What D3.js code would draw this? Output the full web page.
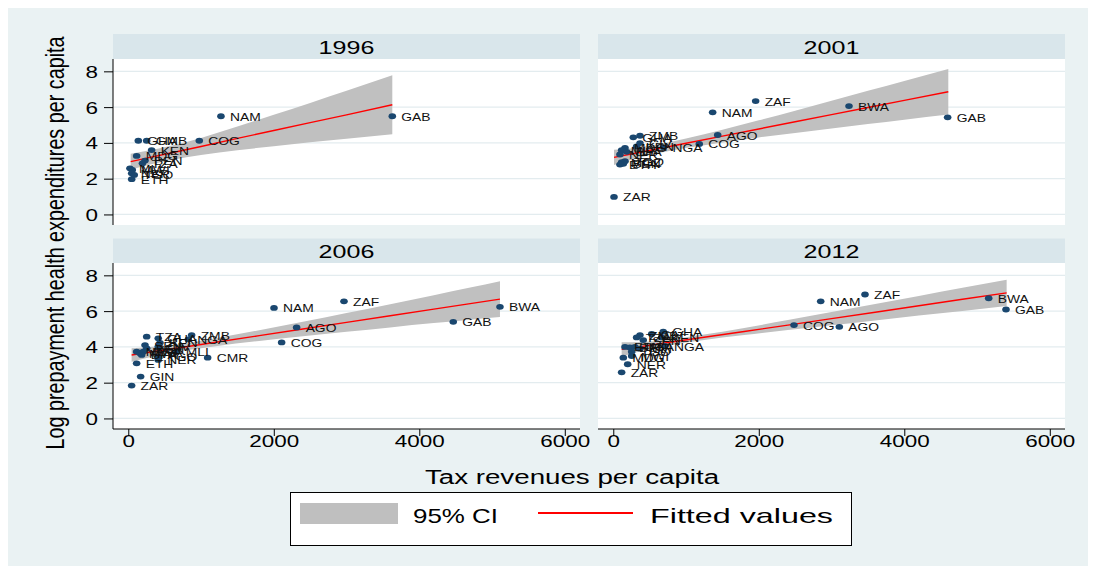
<!DOCTYPE html>
<html><head><meta charset="utf-8">
<script src="https://cdn.jsdelivr.net/npm/d3@7"></script>
<style>html,body{margin:0;padding:0;background:#fff}svg{display:block;font-family:"Liberation Sans",Arial,sans-serif}</style>
</head><body><svg id="c" width="1095" height="570"></svg>
<script>
const years = ["1996","2001","2006","2012"];
const xTicks = [0,2000,4000,6000];
const yTicks = [0,2,4,6,8];
const xTitle = "Tax revenues per capita";
const yTitle = "Log prepayment health expenditures per capita";
const legendLabels = ["95% CI","Fitted values"];

// [country, tax revenues per capita, log prepayment health exp.]
const pts1996 = [["NAM",1274,5.49],["GAB",3629,5.49],["COG",976,4.12],["GHA",138,4.12],["GMB",253,4.12],
 ["KEN",321,3.60],["MDG",115,3.27],["BEN",230,3.01],["TZA",195,2.86],["MLI",23,2.58],["MWI",55,2.49],
 ["NER",47,2.30],["TGO",82,2.21],["ETH",47,1.97]];
const pts2001 = [["ZAF",1957,6.34],["NAM",1366,5.71],["BWA",3240,6.06],["GAB",4596,5.43],["AGO",1435,4.44],
 ["COG",1182,3.94],["ZAR",10,0.98],["GHA",275,4.31],["ZMB",367,4.40],["CIV",367,3.99],["KEN",321,3.81],
 ["NGA",690,3.75],["MDG",161,3.72],["MLI",115,3.59],["BFA",184,3.50],["NER",92,3.35],["TGO",161,2.98],
 ["MOZ",115,2.92],["BEN",138,2.83],["ETH",92,2.79]];
const pts2006 = [["NAM",2003,6.18],["ZAF",2965,6.55],["BWA",5109,6.24],["GAB",4467,5.40],["AGO",2314,5.09],
 ["COG",2108,4.25],["CMR",1091,3.40],["TZA",253,4.57],["GHA",412,4.48],["ZMB",871,4.66],["NGA",825,4.42],
 ["KEN",436,4.23],["SEN",230,4.10],["BEN",253,3.92],["CIV",412,4.01],["MDG",115,3.73],["MWI",161,3.64],
 ["UGA",206,3.73],["BFA",184,3.55],["MLI",665,3.73],["TGO",412,3.45],["NER",412,3.27],["ETH",115,3.08],
 ["GIN",170,2.34],["ZAR",46,1.84]];
const pts2012 = [["ZAF",3460,6.93],["NAM",2851,6.55],["BWA",5160,6.72],["GAB",5398,6.09],["COG",2484,5.22],
 ["AGO",3107,5.12],["GHA",687,4.85],["CIV",528,4.72],["ZMB",367,4.66],["TZA",321,4.53],["SEN",412,4.38],
 ["KEN",665,4.53],["NGA",711,4.05],["ETH",161,4.00],["BEN",229,3.97],["UGA",298,4.00],["MLI",367,3.90],
 ["TGO",253,3.73],["MDG",138,3.40],["MWI",253,3.49],["NER",198,3.03],["ZAR",115,2.58]];

// [x, lower 95% CI, fitted value, upper 95% CI]
const ci1996 = [[33,2.50,2.95,3.40],[300,2.79,3.19,3.59],[600,3.05,3.45,3.85],[1000,3.32,3.80,4.28],
 [1500,3.59,4.25,4.91],[2000,3.81,4.69,5.57],[2500,4.03,5.13,6.23],[3000,4.23,5.57,6.91],[3629,4.48,6.13,7.78]];
const ci2001 = [[10,2.77,3.19,3.61],[300,3.12,3.42,3.72],[600,3.41,3.66,3.91],[1000,3.71,3.98,4.25],
 [1500,4.02,4.38,4.74],[2000,4.30,4.78,5.26],[2500,4.56,5.18,5.80],[3000,4.81,5.58,6.35],[3500,5.05,5.98,6.91],
 [4000,5.30,6.38,7.46],[4605,5.59,6.86,8.13]];
const ci2006 = [[46,3.17,3.55,3.93],[400,3.52,3.77,4.02],[800,3.81,4.01,4.21],[1200,4.04,4.26,4.48],
 [1800,4.33,4.63,4.93],[2400,4.59,5.00,5.41],[3000,4.84,5.37,5.90],[3600,5.09,5.74,6.39],[4200,5.33,6.11,6.89],
 [4700,5.52,6.42,7.32],[5109,5.67,6.67,7.67]];
const ci2012 = [[115,3.46,3.86,4.26],[400,3.78,4.03,4.28],[800,4.11,4.27,4.43],[1200,4.36,4.51,4.66],
 [1800,4.66,4.86,5.06],[2400,4.94,5.22,5.50],[3000,5.21,5.58,5.95],[3600,5.48,5.94,6.40],[4200,5.75,6.30,6.85],
 [4800,6.01,6.66,7.31],[5407,6.28,7.02,7.76]];

const SX = 1.32;               // horizontal stretch of the original rendering
const svg = d3.select("#c");
const FONT = '"Liberation Sans",Arial,sans-serif';

function stext(g, x, y, txt, size, anchor){
  return g.append("text").attr("transform",`translate(${x},${y}) scale(${SX},1)`)
    .attr("font-size",size).attr("text-anchor",anchor||"start").attr("fill","#000").text(txt);
}

svg.append("rect").attr("x",0).attr("y",0).attr("width",1095).attr("height",570).attr("fill","#fff");
svg.append("rect").attr("x",8).attr("y",8).attr("width",1080).attr("height",558).attr("fill","#eaf2f3");

const PW = 467, PH = 166;
const xDomain = [-210, 6209], yDomain = [-0.59, 8.69];
const panels = [
  {year:years[0], x0:113, top:59,  strip:34,  pts:pts1996, ci:ci1996, yax:true,  xax:false},
  {year:years[1], x0:598, top:59,  strip:34,  pts:pts2001, ci:ci2001, yax:false, xax:false},
  {year:years[2], x0:113, top:263, strip:238.5, pts:pts2006, ci:ci2006, yax:true,  xax:true},
  {year:years[3], x0:598, top:263, strip:238.5, pts:pts2012, ci:ci2012, yax:false, xax:true}
];

panels.forEach(p=>{
  const x = d3.scaleLinear().domain(xDomain).range([p.x0, p.x0+PW]);
  const y = d3.scaleLinear().domain(yDomain).range([p.top+PH, p.top]);
  const g = svg.append("g");
  g.append("rect").attr("x",p.x0).attr("y",p.strip).attr("width",PW).attr("height",p.top-p.strip).attr("fill","#d9e6eb");
  stext(g, p.x0+PW/2, p.strip+19.5, p.year, 19, "middle");
  g.append("rect").attr("x",p.x0).attr("y",p.top).attr("width",PW).attr("height",PH).attr("fill","#fff");
  g.selectAll("line.grid").data(yTicks).join("line").attr("class","grid")
    .attr("x1",p.x0).attr("x2",p.x0+PW).attr("y1",d=>y(d)).attr("y2",d=>y(d))
    .attr("stroke","#e3ecef").attr("stroke-width",1.2);
  const area = d3.area().x(d=>x(d[0])).y0(d=>y(d[1])).y1(d=>y(d[3])).curve(d3.curveMonotoneX);
  g.append("path").datum(p.ci).attr("d",area).attr("fill","#c0c0c0");
  const line = d3.line().x(d=>x(d[0])).y(d=>y(d[2]));
  g.append("path").datum(p.ci).attr("d",line).attr("fill","none").attr("stroke","#ff0000").attr("stroke-width",1.4);
  g.selectAll("ellipse").data(p.pts).join("ellipse")
    .attr("cx",d=>x(d[1])).attr("cy",d=>y(d[2])).attr("rx",3.8).attr("ry",2.9).attr("fill","#1a476f");
  p.pts.forEach(d=>{ stext(g, x(d[1])+9, y(d[2])+4.5, d[0], 10.5, "start").attr("fill","#111"); });

  if(p.yax){
    const ax = g.append("g").attr("transform",`translate(${p.x0},0)`)
      .call(d3.axisLeft(y).tickValues(yTicks).tickSize(9).tickFormat(d3.format("d")));
    ax.select(".domain").attr("d",`M0,${p.top}V${p.top+PH}`).attr("stroke","#000");
    ax.selectAll(".tick line").attr("stroke","#000");
    ax.selectAll(".tick text").attr("x",null).attr("dy",null)
      .attr("transform",`translate(-15,6) scale(${SX},1)`)
      .attr("font-size",17).attr("font-family",FONT).attr("fill","#000").attr("text-anchor","end");
  }
  if(p.xax){
    const ax = g.append("g").attr("transform",`translate(0,${p.top+PH})`)
      .call(d3.axisBottom(x).tickValues(xTicks).tickSize(7).tickFormat(d3.format("d")));
    ax.select(".domain").attr("d",`M${p.x0},0H${p.x0+PW}`).attr("stroke","#000");
    ax.selectAll(".tick line").attr("stroke","#000");
    ax.selectAll(".tick text").attr("y",null).attr("dy",null)
      .attr("transform",`translate(0,18) scale(${SX},1)`)
      .attr("font-size",17).attr("font-family",FONT).attr("fill","#000").attr("text-anchor","middle");
  }
});

// axis titles
stext(svg, 572, 484, xTitle, 21, "middle");
svg.append("text").attr("transform",`translate(64,243) scale(${SX},1) rotate(-90)`)
  .attr("font-size",20).attr("text-anchor","middle").attr("textLength",413).attr("lengthAdjust","spacingAndGlyphs")
  .attr("fill","#000").text(yTitle);

// legend
const lg = svg.append("g");
lg.append("rect").attr("x",290.5).attr("y",492.5).attr("width",561).attr("height",53)
  .attr("fill","#fff").attr("stroke","#000").attr("stroke-width",1);
lg.append("rect").attr("x",300).attr("y",503).attr("width",98).attr("height",21).attr("fill","#bfbfbf");
lg.append("text").attr("x",413).attr("y",523).attr("font-size",21).attr("fill","#000")
  .attr("textLength",85).attr("lengthAdjust","spacingAndGlyphs").text(legendLabels[0]);
lg.append("line").attr("x1",538).attr("x2",633).attr("y1",513).attr("y2",513).attr("stroke","#ff0000").attr("stroke-width",2);
lg.append("text").attr("x",650).attr("y",523).attr("font-size",21).attr("fill","#000")
  .attr("textLength",183).attr("lengthAdjust","spacingAndGlyphs").text(legendLabels[1]);
</script></body></html>
